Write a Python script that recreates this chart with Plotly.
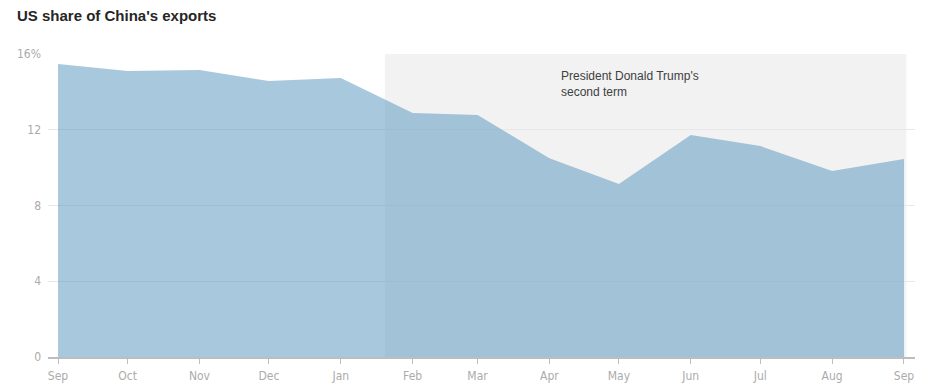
import plotly.graph_objects as go

months = ["2024-09-01", "2024-10-01", "2024-11-01", "2024-12-01", "2025-01-01",
          "2025-02-01", "2025-03-01", "2025-04-01", "2025-05-01", "2025-06-01",
          "2025-07-01", "2025-08-01", "2025-09-01"]
us_share = [15.47, 15.1, 15.15, 14.57, 14.73, 12.88, 12.78, 10.5, 9.13, 11.72, 11.14, 9.82, 10.45]
tick_labels = ["Sep", "Oct", "Nov", "Dec", "Jan", "Feb", "Mar", "Apr", "May", "Jun", "Jul", "Aug", "Sep"]
y_ticks = [0, 4, 8, 12, 16]
y_tick_labels = ["0", "4", "8", "12", "16%"]
term_start = "2025-01-20"
term_end = "2025-09-02"
annotation_text = "President Donald Trump's<br>second term"

W, H = 920, 375  # page body has an 8px default margin

fig = go.Figure()
fig.add_trace(go.Scatter(
    x=months, y=us_share, mode="lines", fill="tozeroy",
    line=dict(width=0, color="rgba(82,145,190,0.5)"),
    fillcolor="rgba(82,145,190,0.5)", hoverinfo="x+y", showlegend=False,
))

fig.add_shape(type="rect", xref="x", yref="y", x0=term_start, x1=term_end, y0=0, y1=16,
              fillcolor="#f2f2f2", line=dict(width=0), layer="below")

fig.add_annotation(x="2025-04-05", y=15.3, xref="x", yref="y", text=annotation_text,
                   showarrow=False, xanchor="left", yanchor="top", align="left",
                   font=dict(family="Liberation Sans, Arial", size=12, color="#404040"))

fig.update_layout(
    width=W, height=H,
    margin=dict(l=40, r=13, t=46, b=26),
    paper_bgcolor="white", plot_bgcolor="white",
    title=dict(text="US share of China's exports", x=9/W, xanchor="left", y=1-8/H, yanchor="middle",
               font=dict(family="Liberation Sans, Arial", size=15, color="#262626", weight="bold")),
    xaxis=dict(
        type="date", automargin=False,
        range=["2024-08-27 16:00", "2025-09-05 18:00"],
        tickvals=months, ticktext=tick_labels,
        ticks="outside", ticklen=5, tickcolor="#bdbdbd", tickwidth=1,
        showgrid=False, showline=True, linecolor="#bdbdbd", linewidth=2,
        ticklabelstandoff=2,
        tickfont=dict(family="Liberation Sans Narrow, DejaVu Sans Condensed, Arial", size=12, color="#ababab"),
        zeroline=False, fixedrange=True,
    ),
    yaxis=dict(
        range=[0, 16], tickvals=y_ticks, ticktext=y_tick_labels, automargin=False,
        showgrid=True, gridcolor="#e8e8e8", gridwidth=1,
        zeroline=False, showline=False, ticks="", ticklabelstandoff=6,
        tickfont=dict(family="Liberation Sans Narrow, DejaVu Sans Condensed, Arial", size=12, color="#ababab"),
        fixedrange=True,
    ),
)

fig.write_html("out.html")
